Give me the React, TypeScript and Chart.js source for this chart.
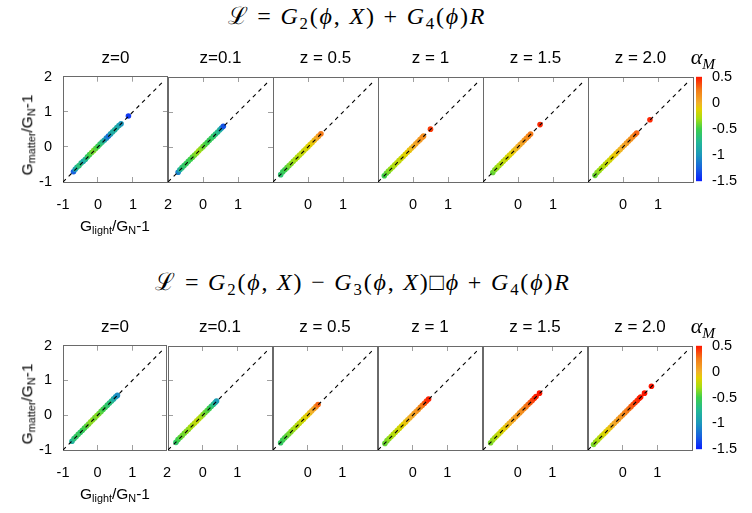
import { useEffect, useRef } from 'react'
import { Chart, registerables } from 'chart.js'

Chart.register(...registerables)

type Pt = [number, number, number] // G_light/G_N-1, G_matter/G_N-1, alpha_M

const zLabels = ['z=0', 'z=0.1', 'z = 0.5', 'z = 1', 'z = 1.5', 'z = 2.0']
const axisTicks = [-1, 0, 1, 2]
const colorbarTicks = [-1.5, -1, -0.5, 0, 0.5]
const diagonal = [-1, 1.85]

// alpha_M colour scale (value, colour)
const colorStops: [number, string][] = [
  [-1.5, '#0a1eff'],
  [-1.25, '#1862e0'],
  [-1.0, '#1c98bc'],
  [-0.75, '#22b896'],
  [-0.5, '#3ccf4c'],
  [-0.3, '#a6de12'],
  [-0.12, '#e4d000'],
  [0.0, '#f2b02a'],
  [0.25, '#f47a18'],
  [0.5, '#ff1600'],
]

// G2 + G4 R
const top0: Pt[] = [
  [-0.7, -0.71, -1.25], [-0.65, -0.64, -0.95], [-0.6, -0.58, -0.75], [-0.54, -0.53, -0.65],
  [-0.48, -0.46, -0.7], [-0.42, -0.41, -0.9], [-0.36, -0.35, -0.75], [-0.3, -0.28, -0.6],
  [-0.24, -0.22, -0.5], [-0.18, -0.16, -0.42], [-0.12, -0.1, -0.38], [-0.06, -0.04, -0.45],
  [0.0, 0.02, -0.5], [0.06, 0.08, -0.6], [0.12, 0.14, -0.7], [0.18, 0.19, -0.85],
  [0.24, 0.25, -1.05], [0.3, 0.31, -1.2], [0.36, 0.37, -0.95], [0.42, 0.43, -0.85],
  [0.48, 0.49, -0.8], [0.54, 0.55, -0.85], [0.6, 0.61, -0.9], [0.66, 0.66, -1.0],
  [0.87, 0.88, -1.4],
]
const top1: Pt[] = [
  [-0.71, -0.72, -1.1], [-0.66, -0.65, -0.8], [-0.6, -0.59, -0.65], [-0.54, -0.53, -0.6],
  [-0.48, -0.47, -0.55], [-0.42, -0.41, -0.55], [-0.36, -0.35, -0.5], [-0.3, -0.29, -0.45],
  [-0.24, -0.23, -0.4], [-0.18, -0.17, -0.35], [-0.12, -0.11, -0.3], [-0.06, -0.05, -0.35],
  [0.0, 0.01, -0.4], [0.06, 0.07, -0.45], [0.12, 0.13, -0.5], [0.18, 0.19, -0.55],
  [0.24, 0.25, -0.55], [0.3, 0.31, -0.6], [0.36, 0.37, -0.65], [0.42, 0.43, -0.7],
  [0.48, 0.49, -0.8], [0.53, 0.54, -0.95], [0.58, 0.59, -1.3],
]
const top2: Pt[] = [
  [-0.78, -0.79, -0.62], [-0.72, -0.71, -0.56], [-0.66, -0.65, -0.5], [-0.6, -0.59, -0.45],
  [-0.54, -0.53, -0.4], [-0.48, -0.47, -0.36], [-0.42, -0.41, -0.33], [-0.36, -0.35, -0.3],
  [-0.3, -0.29, -0.27], [-0.24, -0.23, -0.25], [-0.18, -0.17, -0.22], [-0.12, -0.11, -0.2],
  [-0.06, -0.05, -0.17], [0.0, 0.01, -0.15], [0.06, 0.07, -0.12], [0.12, 0.13, -0.09],
  [0.18, 0.19, -0.05], [0.24, 0.25, 0.0], [0.3, 0.31, 0.08], [0.37, 0.38, 0.25],
]
const top3: Pt[] = [
  [-0.82, -0.82, -0.5], [-0.76, -0.75, -0.44], [-0.7, -0.69, -0.38], [-0.64, -0.63, -0.33],
  [-0.58, -0.57, -0.3], [-0.52, -0.51, -0.27], [-0.46, -0.45, -0.24], [-0.4, -0.39, -0.22],
  [-0.34, -0.33, -0.2], [-0.28, -0.27, -0.17], [-0.22, -0.21, -0.14], [-0.16, -0.15, -0.11],
  [-0.1, -0.09, -0.08], [-0.04, -0.03, -0.04], [0.02, 0.03, 0.0], [0.08, 0.09, 0.04],
  [0.14, 0.15, 0.07], [0.2, 0.21, 0.1], [0.26, 0.27, 0.13], [0.3, 0.31, 0.16],
  [0.5, 0.51, 0.4],
]
const top4: Pt[] = [
  [-0.72, -0.73, -0.42], [-0.66, -0.65, -0.37], [-0.6, -0.59, -0.33], [-0.54, -0.53, -0.3],
  [-0.48, -0.47, -0.27], [-0.42, -0.41, -0.24], [-0.36, -0.35, -0.21], [-0.3, -0.29, -0.18],
  [-0.24, -0.23, -0.15], [-0.18, -0.17, -0.11], [-0.12, -0.11, -0.08], [-0.06, -0.05, -0.04],
  [0.0, 0.01, 0.0], [0.06, 0.07, 0.03], [0.12, 0.13, 0.06], [0.18, 0.19, 0.1],
  [0.24, 0.25, 0.14], [0.3, 0.31, 0.19], [0.36, 0.37, 0.25], [0.63, 0.64, 0.45],
]
const top5: Pt[] = [
  [-0.8, -0.81, -0.42], [-0.74, -0.73, -0.37], [-0.68, -0.67, -0.33], [-0.62, -0.61, -0.3],
  [-0.56, -0.55, -0.27], [-0.5, -0.49, -0.24], [-0.44, -0.43, -0.21], [-0.38, -0.37, -0.18],
  [-0.32, -0.31, -0.15], [-0.26, -0.25, -0.11], [-0.2, -0.19, -0.08], [-0.14, -0.13, -0.05],
  [-0.08, -0.07, -0.02], [-0.02, -0.01, 0.01], [0.04, 0.05, 0.04], [0.1, 0.11, 0.07],
  [0.16, 0.17, 0.1], [0.22, 0.23, 0.14], [0.28, 0.29, 0.18], [0.34, 0.35, 0.23],
  [0.39, 0.4, 0.3], [0.77, 0.78, 0.45],
]

// G2 - G3 box phi + G4 R
const bot0: Pt[] = [
  [-0.74, -0.75, -0.8], [-0.68, -0.67, -0.65], [-0.62, -0.61, -0.6], [-0.56, -0.55, -0.55],
  [-0.5, -0.49, -0.6], [-0.44, -0.43, -0.55], [-0.38, -0.37, -0.5], [-0.32, -0.31, -0.45],
  [-0.26, -0.25, -0.4], [-0.2, -0.19, -0.35], [-0.14, -0.13, -0.35], [-0.08, -0.07, -0.4],
  [-0.02, -0.01, -0.35], [0.04, 0.05, -0.4], [0.1, 0.11, -0.45], [0.16, 0.17, -0.5],
  [0.22, 0.23, -0.55], [0.28, 0.29, -0.6], [0.34, 0.35, -0.65], [0.4, 0.41, -0.7],
  [0.46, 0.47, -0.85], [0.52, 0.53, -0.95], [0.57, 0.57, -1.05],
]
const bot1: Pt[] = [
  [-0.77, -0.78, -0.6], [-0.71, -0.7, -0.5], [-0.65, -0.64, -0.45], [-0.59, -0.58, -0.4],
  [-0.53, -0.52, -0.4], [-0.47, -0.46, -0.35], [-0.41, -0.4, -0.35], [-0.35, -0.34, -0.3],
  [-0.29, -0.28, -0.3], [-0.23, -0.22, -0.25], [-0.17, -0.16, -0.22], [-0.11, -0.1, -0.25],
  [-0.05, -0.04, -0.3], [0.01, 0.02, -0.35], [0.07, 0.08, -0.4], [0.13, 0.14, -0.45],
  [0.19, 0.2, -0.5], [0.25, 0.26, -0.6], [0.31, 0.32, -0.7], [0.36, 0.37, -0.8],
  [0.4, 0.41, -0.95],
]
const bot2: Pt[] = [
  [-0.78, -0.79, -0.58], [-0.72, -0.71, -0.53], [-0.66, -0.65, -0.48], [-0.6, -0.59, -0.44],
  [-0.54, -0.53, -0.4], [-0.48, -0.47, -0.36], [-0.42, -0.41, -0.32], [-0.36, -0.35, -0.29],
  [-0.3, -0.29, -0.26], [-0.24, -0.23, -0.23], [-0.18, -0.17, -0.2], [-0.12, -0.11, -0.17],
  [-0.06, -0.05, -0.14], [0.0, 0.01, -0.1], [0.06, 0.07, -0.06], [0.12, 0.13, 0.0],
  [0.18, 0.19, 0.06], [0.24, 0.25, 0.15], [0.3, 0.31, 0.3],
]
const bot3: Pt[] = [
  [-0.8, -0.81, -0.42], [-0.74, -0.73, -0.38], [-0.68, -0.67, -0.34], [-0.62, -0.61, -0.3],
  [-0.56, -0.55, -0.27], [-0.5, -0.49, -0.24], [-0.44, -0.43, -0.21], [-0.38, -0.37, -0.18],
  [-0.32, -0.31, -0.15], [-0.26, -0.25, -0.12], [-0.2, -0.19, -0.08], [-0.14, -0.13, -0.04],
  [-0.08, -0.07, 0.0], [-0.02, -0.01, 0.03], [0.04, 0.05, 0.06], [0.1, 0.11, 0.1],
  [0.16, 0.17, 0.14], [0.22, 0.23, 0.18], [0.28, 0.29, 0.24], [0.34, 0.35, 0.32],
  [0.4, 0.41, 0.4], [0.46, 0.47, 0.47],
]
const bot4: Pt[] = [
  [-0.78, -0.79, -0.38], [-0.72, -0.71, -0.33], [-0.66, -0.65, -0.29], [-0.6, -0.59, -0.25],
  [-0.54, -0.53, -0.21], [-0.48, -0.47, -0.17], [-0.42, -0.41, -0.13], [-0.36, -0.35, -0.1],
  [-0.3, -0.29, -0.06], [-0.24, -0.23, -0.02], [-0.18, -0.17, 0.02], [-0.12, -0.11, 0.05],
  [-0.06, -0.05, 0.08], [0.0, 0.01, 0.1], [0.06, 0.07, 0.13], [0.12, 0.13, 0.16],
  [0.18, 0.19, 0.2], [0.24, 0.25, 0.24], [0.3, 0.31, 0.28], [0.36, 0.37, 0.33],
  [0.42, 0.43, 0.38], [0.48, 0.49, 0.43], [0.53, 0.54, 0.47], [0.63, 0.64, 0.5],
]
const bot5: Pt[] = [
  [-0.84, -0.84, -0.38], [-0.78, -0.77, -0.33], [-0.72, -0.71, -0.29], [-0.66, -0.65, -0.25],
  [-0.6, -0.59, -0.21], [-0.54, -0.53, -0.17], [-0.48, -0.47, -0.13], [-0.42, -0.41, -0.1],
  [-0.36, -0.35, -0.06], [-0.3, -0.29, -0.02], [-0.24, -0.23, 0.02], [-0.18, -0.17, 0.06],
  [-0.12, -0.11, 0.09], [-0.06, -0.05, 0.12], [0.0, 0.01, 0.15], [0.06, 0.07, 0.19],
  [0.12, 0.13, 0.23], [0.18, 0.19, 0.27], [0.24, 0.25, 0.31], [0.3, 0.31, 0.35],
  [0.36, 0.37, 0.39], [0.42, 0.43, 0.43], [0.48, 0.49, 0.46], [0.52, 0.53, 0.48],
  [0.63, 0.64, 0.5], [0.83, 0.84, 0.5],
]

const topRow = [top0, top1, top2, top3, top4, top5]
const bottomRow = [bot0, bot1, bot2, bot3, bot4, bot5]

const SANS = "'Liberation Sans', Arial, Helvetica, sans-serif"
const SERIF = "'Liberation Serif', 'DejaVu Serif', serif"
const PANEL_X = [63, 168, 273, 378, 483, 588]
const BAR_X = 696
const BAR_W = 6
const BORDER = '#6a6a6a'
const TICK = '#a0a0a0'
const NONE = 'rgba(0,0,0,0)'

function toRgb(hex: string) {
  const n = parseInt(hex.slice(1), 16)
  return [(n >> 16) & 255, (n >> 8) & 255, n & 255]
}

function alphaColor(a: number): string {
  if (a <= colorStops[0][0]) return colorStops[0][1]
  for (let i = 1; i < colorStops.length; i++) {
    const [v1, c1] = colorStops[i]
    if (a <= v1) {
      const [v0, c0] = colorStops[i - 1]
      const t = (a - v0) / (v1 - v0)
      const p = toRgb(c0)
      const q = toRgb(c1)
      const m = p.map((c, k) => Math.round(c + (q[k] - c) * t))
      return `rgb(${m[0]},${m[1]},${m[2]})`
    }
  }
  return colorStops[colorStops.length - 1][1]
}

const innerTick = (ctx: any) =>
  ctx.tick && (ctx.tick.value === 0 || ctx.tick.value === 1) ? TICK : NONE

// build the chart, then resize / move its box so the plot area sits exactly on the target
function placeChart(
  box: HTMLDivElement,
  canvas: HTMLCanvasElement,
  makeConfig: () => any,
  left: number,
  top: number,
  w: number,
  h: number,
): Chart {
  let chart = new Chart(canvas, makeConfig())
  for (let pass = 0; pass < 2; pass++) {
    const a = chart.chartArea
    const bw = box.clientWidth + w - (a.right - a.left)
    const bh = box.clientHeight + h - (a.bottom - a.top)
    chart.destroy()
    box.style.width = `${bw}px`
    box.style.height = `${bh}px`
    chart = new Chart(canvas, makeConfig())
  }
  const b = chart.chartArea
  box.style.left = `${left - b.left}px`
  box.style.top = `${top - b.top}px`
  return chart
}

interface PanelProps {
  points: Pt[]
  col: number
  top: number
  size: number
}

function Panel({ points, col, top, size }: PanelProps) {
  const boxRef = useRef<HTMLDivElement>(null)
  const canvasRef = useRef<HTMLCanvasElement>(null)
  const xShown = col === 0 ? axisTicks : [0, 1]
  const sideTicks = col < 2

  useEffect(() => {
    if (!canvasRef.current || !boxRef.current) return
    const makeConfig = () => ({
      type: 'scatter',
      data: {
        datasets: [
          {
            type: 'line',
            data: diagonal.map((v) => ({ x: v, y: v })),
            borderColor: '#000',
            borderWidth: 1.1,
            borderDash: [4, 4],
            pointRadius: 0,
            order: 0,
          },
          {
            data: points.map(([x, y, a]) => ({ x, y, a })),
            backgroundColor: (ctx: any) => alphaColor(ctx.raw ? ctx.raw.a : 0),
            pointRadius: 2.8,
            borderWidth: 0,
            order: 1,
          },
        ],
      },
      options: {
        responsive: true,
        maintainAspectRatio: false,
        animation: false,
        layout: { padding: 0 },
        plugins: { legend: { display: false }, tooltip: { enabled: false } },
        scales: {
          x: {
            type: 'linear',
            position: 'bottom',
            min: -1,
            max: 2,
            ticks: {
              stepSize: 1,
              autoSkip: false,
              maxRotation: 0,
              padding: 19,
              color: '#000',
              font: { family: SANS, size: 14.5 },
              callback: (v: any) => (xShown.includes(Number(v)) ? String(v) : ''),
            },
            grid: { drawOnChartArea: false, tickLength: -5, color: innerTick },
            border: { color: BORDER },
            afterFit: (s: any) => { s.height = 40 },
          },
          xTop: {
            type: 'linear',
            position: 'top',
            min: -1,
            max: 2,
            ticks: { stepSize: 1, display: false },
            grid: { drawOnChartArea: false, tickLength: -5, color: innerTick },
            border: { color: BORDER },
            afterFit: (s: any) => { s.height = 4 },
          },
          y: {
            type: 'linear',
            position: 'left',
            min: -1,
            max: 2,
            ticks: {
              stepSize: 1,
              padding: 16,
              color: '#000',
              display: col === 0,
              font: { family: SANS, size: 14.5 },
            },
            grid: {
              drawOnChartArea: false,
              tickLength: -5,
              color: sideTicks ? innerTick : NONE,
            },
            border: { color: BORDER },
            afterFit: (s: any) => { s.width = col === 0 ? 50 : 4 },
          },
          yRight: {
            type: 'linear',
            position: 'right',
            min: -1,
            max: 2,
            ticks: { stepSize: 1, display: false },
            grid: {
              drawOnChartArea: false,
              tickLength: -5,
              color: sideTicks ? innerTick : NONE,
            },
            border: { color: BORDER },
            afterFit: (s: any) => { s.width = 4 },
          },
        },
      },
    })
    const chart = placeChart(boxRef.current, canvasRef.current, makeConfig, PANEL_X[col], top, size, size)
    return () => chart.destroy()
  }, [points, col, top, size])

  return (
    <div
      ref={boxRef}
      style={{ position: 'absolute', left: PANEL_X[col] - 60, top: top - 30, width: size + 100, height: size + 80 }}
    >
      <canvas ref={canvasRef} />
    </div>
  )
}

function ColorBar({ top, size }: { top: number; size: number }) {
  const boxRef = useRef<HTMLDivElement>(null)
  const canvasRef = useRef<HTMLCanvasElement>(null)

  useEffect(() => {
    if (!canvasRef.current || !boxRef.current) return
    const lo = colorbarTicks[0]
    const hi = colorbarTicks[colorbarTicks.length - 1]
    const makeConfig = () => ({
      type: 'bar',
      data: {
        labels: ['alpha_M'],
        datasets: [
          {
            data: [[lo, hi]],
            backgroundColor: (ctx: any) => {
              const area = ctx.chart.chartArea
              if (!area) return colorStops[0][1]
              const g = ctx.chart.ctx.createLinearGradient(0, area.bottom, 0, area.top)
              colorStops.forEach(([v, c]) => g.addColorStop((v - lo) / (hi - lo), c))
              return g
            },
            borderWidth: 0,
            barPercentage: 1,
            categoryPercentage: 1,
          },
        ],
      },
      options: {
        responsive: true,
        maintainAspectRatio: false,
        animation: false,
        layout: { padding: { top: 12, bottom: 12, left: 0, right: 0 } },
        plugins: { legend: { display: false }, tooltip: { enabled: false } },
        scales: {
          x: { display: false },
          y: {
            position: 'right',
            min: lo,
            max: hi,
            z: 1,
            afterBuildTicks: (s: any) => { s.ticks = colorbarTicks.map((v) => ({ value: v })) },
            ticks: {
              padding: 10,
              color: '#000',
              font: { family: SANS, size: 14.5 },
              callback: (v: any) => String(v),
            },
            grid: {
              drawOnChartArea: true,
              drawTicks: false,
              lineWidth: 1,
              color: (ctx: any) =>
                ctx.tick && (ctx.tick.value === lo || ctx.tick.value === hi) ? NONE : 'rgba(0,0,0,0.55)',
            },
            border: { display: false },
            afterFit: (s: any) => { s.width = 46 },
          },
        },
      },
    })
    const chart = placeChart(boxRef.current, canvasRef.current, makeConfig, BAR_X, top, BAR_W, size)
    return () => chart.destroy()
  }, [top, size])

  return (
    <div ref={boxRef} style={{ position: 'absolute', left: BAR_X, top: top - 20, width: 56, height: size + 40 }}>
      <canvas ref={canvasRef} />
    </div>
  )
}

const sub: React.CSSProperties = { fontSize: '0.7em', position: 'relative', top: '0.3em' }

function Label({ x, y, children, style }: { x: number; y: number; children: any; style?: React.CSSProperties }) {
  return (
    <div
      style={{
        position: 'absolute',
        left: x,
        top: y,
        transform: 'translate(-50%, -50%)',
        whiteSpace: 'pre',
        lineHeight: 1,
        color: '#000',
        ...style,
      }}
    >
      {children}
    </div>
  )
}

function Row({ data, top, size }: { data: Pt[][]; top: number; size: number }) {
  return (
    <>
      {data.map((pts, i) => (
        <Panel key={i} points={pts} col={i} top={top} size={size} />
      ))}
      <ColorBar top={top} size={size} />
      {zLabels.map((z, i) => (
        <Label key={z} x={PANEL_X[i] + size / 2} y={top - 20} style={{ fontFamily: SANS, fontSize: 17 }}>
          {z}
        </Label>
      ))}
      <Label x={703} y={top - 20} style={{ fontFamily: SERIF, fontSize: 22, fontStyle: 'italic' }}>
        α<span style={sub}>M</span>
      </Label>
      <Label
        x={27}
        y={top + 58}
        style={{ fontFamily: SANS, fontSize: 15.5, transform: 'translate(-50%, -50%) rotate(-90deg)' }}
      >
        G<span style={sub}>matter</span>/G<span style={sub}>N</span>-1
      </Label>
      <Label x={115} y={top + size + 44} style={{ fontFamily: SANS, fontSize: 15.5 }}>
        G<span style={sub}>light</span>/G<span style={sub}>N</span>-1
      </Label>
    </>
  )
}

export default function App() {
  const math: React.CSSProperties = { fontFamily: SERIF, fontSize: 24, letterSpacing: '1.8px' }
  return (
    <div
      style={{
        position: 'absolute',
        left: 0,
        top: 0,
        width: 752,
        height: 513,
        overflow: 'hidden',
        background: '#fff',
      }}
    >
      <Label x={357} y={16} style={math}>
        ℒ = <i>G</i><span style={sub}>2</span>(<i>ϕ</i>, <i>X</i>) + <i>G</i><span style={sub}>4</span>(<i>ϕ</i>)<i>R</i>
      </Label>
      <Row data={topRow} top={77} size={105} />
      <Label x={363} y={282} style={math}>
        ℒ = <i>G</i><span style={sub}>2</span>(<i>ϕ</i>, <i>X</i>) − <i>G</i><span style={sub}>3</span>(<i>ϕ</i>, <i>X</i>)□<i>ϕ</i> + <i>G</i><span style={sub}>4</span>(<i>ϕ</i>)<i>R</i>
      </Label>
      <Row data={bottomRow} top={346} size={104} />
    </div>
  )
}
